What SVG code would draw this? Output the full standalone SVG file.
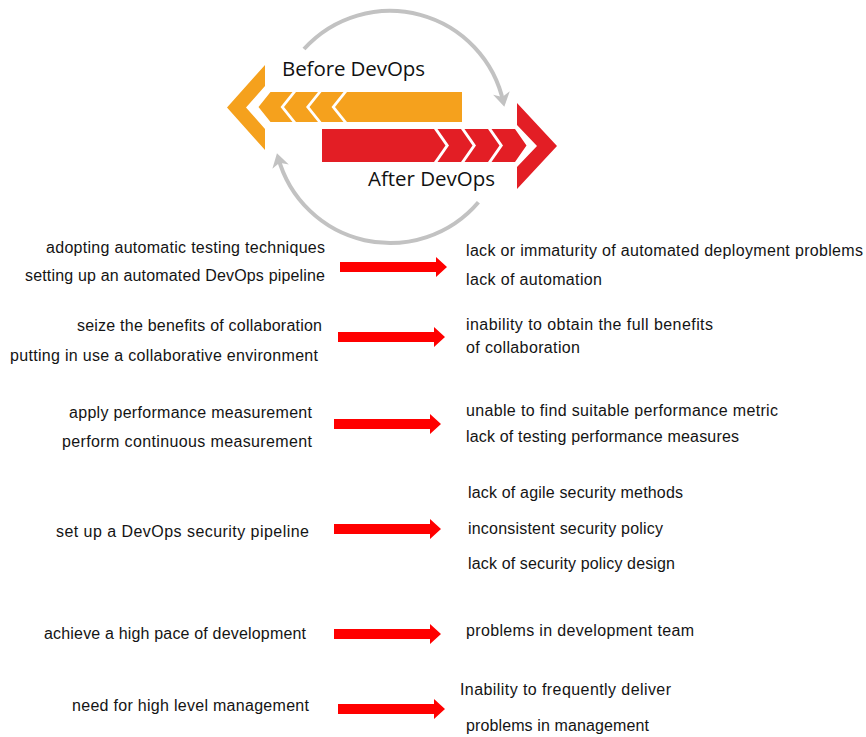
<svg xmlns="http://www.w3.org/2000/svg" xmlns:xlink="http://www.w3.org/1999/xlink" width="866" height="737" viewBox="0 0 866 737">
<style>
.t{font-family:"Liberation Sans",Arial,sans-serif;font-size:16px;fill:#141414}
.h{font-family:"Open Sans","Liberation Sans",sans-serif;font-size:20.5px;fill:#111}
.arc{fill:none;stroke:#c2c2c2;stroke-width:4}
.or{fill:#f5a11d}
.rd{fill:#e31e25}
.ra{fill:#ff0000}
</style>
<defs>
<marker id="gh" markerUnits="userSpaceOnUse" viewBox="-12 -10 18 20" markerWidth="18" markerHeight="20" refX="0" refY="0" orient="auto">
<path d="M4,0 L-10,-8.5 L-6,0 L-10,8.5 Z" fill="#c2c2c2"/>
</marker>
<path id="ra" d="M0,-5 H96 V-10 L107,0 L96,10 V5 H0 Z"/>
</defs>
<rect width="866" height="737" fill="#fff"/>

<g id="cycle">
<path class="arc" d="M304,49 A116,116 0 0 1 503.5,102.9" marker-end="url(#gh)"/>
<path class="arc" d="M478.4,202.2 A116,116 0 0 1 278,157" marker-end="url(#gh)"/>
</g>

<g id="before-devops">
<polygon class="or" points="227,107.5 265,65 265,86 246,107.5 265,129 265,150"/>
<polygon class="or" points="258.5,107 270.5,92 292.5,92 280.5,107 292.5,122 270.5,122"/>
<polygon class="or" points="284,107 296,92 318,92 306,107 318,122 296,122"/>
<polygon class="or" points="309.5,107 321.5,92 343.5,92 331.5,107 343.5,122 321.5,122"/>
<polygon class="or" points="335,107 347,92 462,92 462,122 347,122"/>
<text class="h" x="282" y="76" textLength="143">Before DevOps</text>
</g>

<g id="after-devops">
<polygon class="rd" points="322,129 434,129 445.5,145.5 434,162 322,162"/>
<polygon class="rd" points="472.5,145.5 461,129 437.5,129 449,145.5 437.5,162 461,162"/>
<polygon class="rd" points="499.5,145.5 488,129 464.5,129 476,145.5 464.5,162 488,162"/>
<polygon class="rd" points="526.5,145.5 515,129 491.5,129 503,145.5 491.5,162 515,162"/>
<polygon class="rd" points="517,103 557,146 517,189 517,167 537,146 517,125"/>
<text class="h" x="368" y="186" textLength="127">After DevOps</text>
</g>

<g id="connectors" class="ra">
<use xlink:href="#ra" x="340" y="267"/>
<use xlink:href="#ra" x="338" y="337"/>
<use xlink:href="#ra" x="334" y="424"/>
<use xlink:href="#ra" x="334" y="529"/>
<use xlink:href="#ra" x="334" y="634"/>
<use xlink:href="#ra" x="338" y="709"/>
</g>

<g id="row1">
<text class="t" x="46" y="253" textLength="279">adopting automatic testing techniques</text>
<text class="t" x="25" y="281" textLength="300">setting up an automated DevOps pipeline</text>
<text class="t" x="466" y="256" textLength="397">lack or immaturity of automated deployment problems</text>
<text class="t" x="466" y="285" textLength="136">lack of automation</text>
</g>
<g id="row2">
<text class="t" x="77" y="331" textLength="245">seize the benefits of collaboration</text>
<text class="t" x="10" y="361" textLength="308">putting in use a collaborative environment</text>
<text class="t" x="466" y="330" textLength="247">inability to obtain the full benefits</text>
<text class="t" x="466" y="353" textLength="114">of collaboration</text>
</g>
<g id="row3">
<text class="t" x="69" y="418" textLength="243">apply performance measurement</text>
<text class="t" x="62" y="447" textLength="250">perform continuous measurement</text>
<text class="t" x="466" y="416" textLength="312">unable to find suitable performance metric</text>
<text class="t" x="466" y="442" textLength="273">lack of testing performance measures</text>
</g>
<g id="row4">
<text class="t" x="56" y="537" textLength="253">set up a DevOps security pipeline</text>
<text class="t" x="468" y="498" textLength="215">lack of agile security methods</text>
<text class="t" x="468" y="534" textLength="195">inconsistent security policy</text>
<text class="t" x="468" y="569" textLength="207">lack of security policy design</text>
</g>
<g id="row5">
<text class="t" x="44" y="639" textLength="262">achieve a high pace of development</text>
<text class="t" x="466" y="636" textLength="228">problems in development team</text>
</g>
<g id="row6">
<text class="t" x="72" y="711" textLength="237">need for high level management</text>
<text class="t" x="460" y="695" textLength="211">Inability to frequently deliver</text>
<text class="t" x="466" y="731" textLength="183">problems in management</text>
</g>
</svg>
